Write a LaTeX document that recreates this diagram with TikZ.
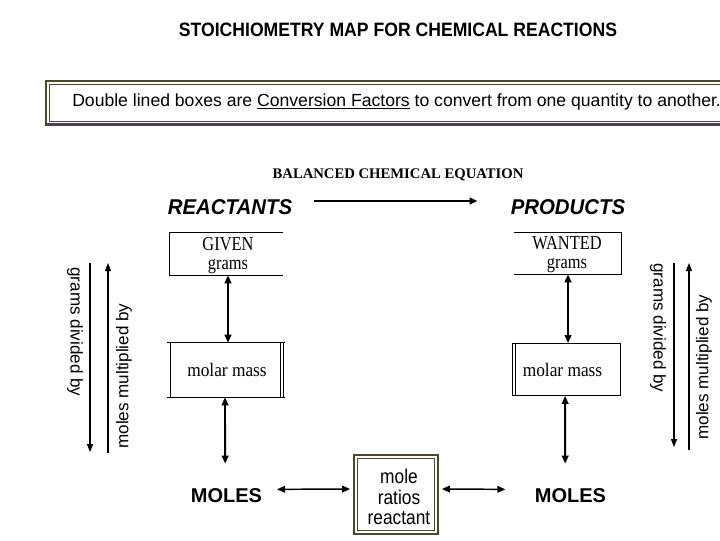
\documentclass[tikz,border=0pt]{standalone}
\usepackage{fontspec}
\usepackage{graphicx}
\setmainfont{Liberation Serif}
\newfontfamily\arialf{Liberation Sans}
\usetikzlibrary{arrows.meta}
\definecolor{olivebox}{RGB}{75,73,45}
\newcommand\vstr[2]{\scalebox{1}[#1]{#2}}
\begin{document}
\begin{tikzpicture}[x=0.75pt,y=-0.75pt,
  every node/.style={inner sep=0pt},
  tipboth/.style={{Triangle[length=6pt,width=5pt]}-{Triangle[length=6pt,width=5pt]}, line width=1.4pt},
  tipone/.style={-{Triangle[length=6pt,width=5pt]}, line width=1.4pt},
  sidearrow/.style={-{Triangle[length=6pt,width=4.5pt]}, line width=0.9pt},
  boxline/.style={line width=0.75pt},
  sidetext/.style={font=\arialf\fontsize{12.8pt}{14pt}\selectfont},
  boxtext/.style={font=\fontsize{12.3pt}{13.7pt}\selectfont, align=center},
  mmtext/.style={font=\fontsize{13pt}{15pt}\selectfont},
  bigword/.style={font=\arialf\bfseries\fontsize{15pt}{18pt}\selectfont}]
\useasboundingbox (0,0) rectangle (720,540);
\clip (0,0) rectangle (720,540);

% title
\node[font=\arialf\bfseries\fontsize{13.2pt}{15pt}\selectfont] (title) at (398,30) {\vstr{1.1}{STOICHIOMETRY MAP FOR CHEMICAL REACTIONS}};

% header box
\draw[olivebox, line width=2pt] (46,81) rectangle (760,124.5);
\draw[olivebox, line width=0.8pt] (49.5,84.5) rectangle (760,121.5);
\node[anchor=west, font=\arialf\fontsize{13.2pt}{15pt}\selectfont] (note) at (72,102) {Double lined boxes are \underline{Conversion Factors} to convert from one quantity to another.};

% balanced equation
\node[font=\bfseries\fontsize{11pt}{13pt}\selectfont] (bal) at (398,175) {BALANCED CHEMICAL EQUATION};
\node[font=\arialf\bfseries\itshape\fontsize{15.3pt}{18pt}\selectfont] (react) at (230,207) {\vstr{1.05}{REACTANTS}};
\node[font=\arialf\bfseries\itshape\fontsize{15.3pt}{18pt}\selectfont] (prod) at (568,207) {\vstr{1.05}{PRODUCTS}};
\draw[tipone] ([xshift=16.5pt,yshift=4.5pt]react.east) -- ([xshift=-24.75pt,yshift=4.5pt]prod.west);

% GIVEN box (no right edge)
\node[minimum width=84.75pt, minimum height=31.5pt] (given) at (226.5,254) {};
\draw[boxline] (given.north east) -- (given.north west) -- (given.south west) -- (given.south east);
\node[boxtext] (givent) at (228,255.5) {\vstr{1.2}{GIVEN}\\\vstr{1.2}{grams}};

% WANTED box (no left edge)
\node[minimum width=80.25pt, minimum height=30.75pt] (wanted) at (567.5,253.5) {};
\draw[boxline] (wanted.north west) -- (wanted.north east) -- (wanted.south east) -- (wanted.south west);
\node[boxtext] (wantedt) at (567,254.5) {\vstr{1.2}{WANTED}\\\vstr{1.2}{grams}};

% molar mass left
\node[minimum width=88.5pt, minimum height=40.5pt] (mm1) at (226,370) {};
\draw[boxline] (mm1.north west) -- (mm1.north east);
\draw[boxline] (mm1.south west) -- (mm1.south east);
\draw[boxline] ([xshift=3pt]mm1.north west) -- ([xshift=3pt]mm1.south west);
\draw[boxline] ([xshift=-3.4pt]mm1.north east) -- ([xshift=-3.4pt]mm1.south east);
\draw[boxline] ([xshift=-1.2pt]mm1.north east) -- ([xshift=-1.2pt]mm1.south east);
\node[mmtext] (mm1t) at (227,370) {\vstr{1.1}{molar mass}};

% molar mass right
\node[minimum width=81pt, minimum height=39.3pt] (mm2) at (566.7,369.5) {};
\draw[boxline] (mm2.north west) -- (mm2.north east) -- (mm2.south east) -- (mm2.south west) -- cycle;
\draw[boxline] ([xshift=2pt]mm2.north west) -- ([xshift=2pt]mm2.south west);
\node[mmtext] (mm2t) at (562.5,369.5) {\vstr{1.1}{molar mass}};

% MOLES
\node[bigword] (moles1) at (226.5,496) {MOLES};
\node[bigword] (moles2) at (570.5,496) {MOLES};

% mole ratios box
\node[draw=olivebox, line width=1.8pt, minimum width=63pt, minimum height=59.25pt] (ratio) at (396,494.5) {};
\draw[olivebox, line width=0.9pt] ([shift={(3.4pt,-3.4pt)}]ratio.north west) rectangle ([shift={(-3.4pt,3.4pt)}]ratio.south east);
\node[font=\arialf\fontsize{13pt}{15.6pt}\selectfont, align=center] (ratiot) at (399,497) {\vstr{1.15}{mole}\\\vstr{1.15}{ratios}\\\vstr{1.15}{reactant}};

% vertical connectors
\draw[tipboth] ([xshift=1.1pt]given.south) -- ([xshift=1.5pt]mm1.north);
\draw[tipboth] ([xshift=-0.75pt]mm1.south) -- ([xshift=-1pt,yshift=18.75pt]moles1.north);
\draw[tipboth] ([xshift=0.4pt]wanted.south) -- ([xshift=1pt]mm2.north);
\draw[tipboth] ([xshift=-1.2pt]mm2.south) -- ([xshift=-4pt,yshift=18.75pt]moles2.north);

% horizontal connectors
\draw[tipboth, line width=1.1pt] ([xshift=11pt,yshift=5pt]moles1.east) -- ([xshift=-2pt]ratio.west |- 0,489);
\draw[tipboth, line width=1.1pt] ([xshift=2pt]ratio.east |- 0,489) -- ([xshift=-22pt,yshift=5pt]moles2.west);

% side arrows left
\coordinate (l1s) at (90,263); \coordinate (l1e) at (90,452);
\coordinate (l2s) at (108,453); \coordinate (l2e) at (108,263);
\draw[sidearrow] (l1s) -- (l1e);
\draw[sidearrow] (l2s) -- (l2e);
\node[sidetext, rotate=-90] (gdl) at (75,332) {grams divided by};
\node[sidetext, rotate=90] (mml) at (124,376) {moles multiplied by};

% side arrows right
\coordinate (r1s) at (674,263); \coordinate (r1e) at (674,447);
\coordinate (r2s) at (689,450); \coordinate (r2e) at (689,263);
\draw[sidearrow] (r1s) -- (r1e);
\draw[sidearrow] (r2s) -- (r2e);
\node[sidetext, rotate=-90] (gdr) at (658,328) {grams divided by};
\node[sidetext, rotate=90] (mmr) at (704,367) {moles multiplied by};
\end{tikzpicture}
\end{document}
